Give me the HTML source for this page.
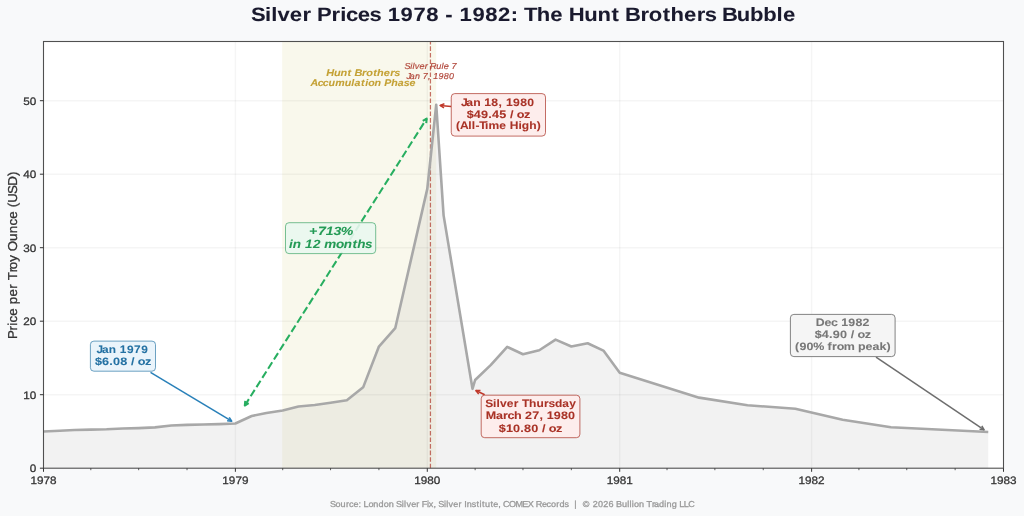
<!DOCTYPE html>
<html><head><meta charset="utf-8"><title>Silver Prices 1978 - 1982</title>
<style>
html,body{margin:0;padding:0;background:#f8f9fa;}
body{width:1024px;height:516px;overflow:hidden;}
svg{display:block;will-change:transform;font-family:"Liberation Sans",sans-serif;text-rendering:geometricPrecision;}
</style></head><body>
<svg width="1024" height="516" viewBox="0 0 1024 516">
<rect x="0" y="0" width="1024" height="516" fill="#f8f9fa"/>
<rect x="43.5" y="41.5" width="960.0" height="426.7" fill="#ffffff"/>
<rect x="282.20" y="41.5" width="154.03" height="426.7" fill="#f9f8ec"/>
<polygon points="43.50,468.2 43.50,431.45 59.80,430.71 74.52,429.98 90.82,429.61 106.59,429.25 122.89,428.51 138.66,428.14 154.96,427.41 171.25,425.57 187.03,424.83 203.32,424.47 219.10,424.10 235.39,423.51 251.69,416.01 266.41,413.07 282.71,410.50 298.48,406.46 314.78,404.99 330.55,402.78 346.85,400.21 363.15,387.35 378.92,346.56 395.22,328.18 427.29,188.90 436.23,104.74 443.59,215.36 472.50,388.82 475.13,380.00 490.90,364.93 507.20,346.93 522.97,354.27 539.27,350.23 555.57,339.57 571.34,346.56 587.64,343.25 603.41,350.60 619.71,372.65 699.10,397.64 747.46,405.21 795.31,408.81 842.62,419.84 890.99,427.26 988.25,432.04 988.25,468.2" fill="#c0c0c0" fill-opacity="0.2"/>
<line x1="43.5" y1="394.70" x2="1003.5" y2="394.70" stroke="#000" stroke-opacity="0.038" stroke-width="1.5"/>
<line x1="43.5" y1="321.20" x2="1003.5" y2="321.20" stroke="#000" stroke-opacity="0.038" stroke-width="1.5"/>
<line x1="43.5" y1="247.70" x2="1003.5" y2="247.70" stroke="#000" stroke-opacity="0.038" stroke-width="1.5"/>
<line x1="43.5" y1="174.20" x2="1003.5" y2="174.20" stroke="#000" stroke-opacity="0.038" stroke-width="1.5"/>
<line x1="43.5" y1="100.70" x2="1003.5" y2="100.70" stroke="#000" stroke-opacity="0.038" stroke-width="1.5"/>
<line x1="235.39" y1="41.5" x2="235.39" y2="468.2" stroke="#000" stroke-opacity="0.038" stroke-width="1.5"/>
<line x1="427.29" y1="41.5" x2="427.29" y2="468.2" stroke="#000" stroke-opacity="0.038" stroke-width="1.5"/>
<line x1="619.71" y1="41.5" x2="619.71" y2="468.2" stroke="#000" stroke-opacity="0.038" stroke-width="1.5"/>
<line x1="811.61" y1="41.5" x2="811.61" y2="468.2" stroke="#000" stroke-opacity="0.038" stroke-width="1.5"/>
<line x1="430.44" y1="468.2" x2="430.44" y2="41.5" stroke="#b03a2e" stroke-opacity="0.72" stroke-width="1.23" stroke-dasharray="4.55 1.97"/>
<polyline points="43.50,431.45 59.80,430.71 74.52,429.98 90.82,429.61 106.59,429.25 122.89,428.51 138.66,428.14 154.96,427.41 171.25,425.57 187.03,424.83 203.32,424.47 219.10,424.10 235.39,423.51 251.69,416.01 266.41,413.07 282.71,410.50 298.48,406.46 314.78,404.99 330.55,402.78 346.85,400.21 363.15,387.35 378.92,346.56 395.22,328.18 427.29,188.90 436.23,104.74 443.59,215.36 472.50,388.82 475.13,380.00 490.90,364.93 507.20,346.93 522.97,354.27 539.27,350.23 555.57,339.57 571.34,346.56 587.64,343.25 603.41,350.60 619.71,372.65 699.10,397.64 747.46,405.21 795.31,408.81 842.62,419.84 890.99,427.26 988.25,432.04" fill="none" stroke="#a8a8a8" stroke-width="2.6" stroke-linejoin="round" stroke-linecap="butt"/>
<rect x="43.5" y="41.5" width="960.0" height="426.7" fill="none" stroke="#505050" stroke-width="1.1"/>
<line x1="39.9" y1="468.20" x2="43.5" y2="468.20" stroke="#333" stroke-width="1"/>
<text transform="translate(29.78,472.00) scale(1.0895,1)" x="0.00" y="0" font-size="10.76" font-weight="normal" font-style="normal" fill="#333" stroke="#333" stroke-width="0.275" style="white-space:pre" >0</text>
<line x1="39.9" y1="394.70" x2="43.5" y2="394.70" stroke="#333" stroke-width="1"/>
<text transform="translate(23.26,398.50) scale(1.0895,1)" x="0.00 5.99" y="0" font-size="10.76" font-weight="normal" font-style="normal" fill="#333" stroke="#333" stroke-width="0.275" style="white-space:pre" >10</text>
<line x1="39.9" y1="321.20" x2="43.5" y2="321.20" stroke="#333" stroke-width="1"/>
<text transform="translate(23.26,325.00) scale(1.0895,1)" x="0.00 5.99" y="0" font-size="10.76" font-weight="normal" font-style="normal" fill="#333" stroke="#333" stroke-width="0.275" style="white-space:pre" >20</text>
<line x1="39.9" y1="247.70" x2="43.5" y2="247.70" stroke="#333" stroke-width="1"/>
<text transform="translate(23.26,251.50) scale(1.0895,1)" x="0.00 5.99" y="0" font-size="10.76" font-weight="normal" font-style="normal" fill="#333" stroke="#333" stroke-width="0.275" style="white-space:pre" >30</text>
<line x1="39.9" y1="174.20" x2="43.5" y2="174.20" stroke="#333" stroke-width="1"/>
<text transform="translate(23.26,178.00) scale(1.0895,1)" x="0.00 5.99" y="0" font-size="10.76" font-weight="normal" font-style="normal" fill="#333" stroke="#333" stroke-width="0.275" style="white-space:pre" >40</text>
<line x1="39.9" y1="100.70" x2="43.5" y2="100.70" stroke="#333" stroke-width="1"/>
<text transform="translate(23.26,104.50) scale(1.0895,1)" x="0.00 5.99" y="0" font-size="10.76" font-weight="normal" font-style="normal" fill="#333" stroke="#333" stroke-width="0.275" style="white-space:pre" >50</text>
<line x1="43.50" y1="468.2" x2="43.50" y2="471.8" stroke="#333" stroke-width="1"/>
<text transform="translate(30.46,483.60) scale(1.0895,1)" x="0.00 5.99 11.97 17.96" y="0" font-size="10.76" font-weight="normal" font-style="normal" fill="#333" stroke="#333" stroke-width="0.275" style="white-space:pre" >1978</text>
<line x1="90.82" y1="468.2" x2="90.82" y2="470.2" stroke="#333" stroke-width="0.8"/>
<line x1="138.66" y1="468.2" x2="138.66" y2="470.2" stroke="#333" stroke-width="0.8"/>
<line x1="187.03" y1="468.2" x2="187.03" y2="470.2" stroke="#333" stroke-width="0.8"/>
<line x1="235.39" y1="468.2" x2="235.39" y2="471.8" stroke="#333" stroke-width="1"/>
<text transform="translate(222.35,483.60) scale(1.0895,1)" x="0.00 5.99 11.97 17.96" y="0" font-size="10.76" font-weight="normal" font-style="normal" fill="#333" stroke="#333" stroke-width="0.275" style="white-space:pre" >1979</text>
<line x1="282.71" y1="468.2" x2="282.71" y2="470.2" stroke="#333" stroke-width="0.8"/>
<line x1="330.55" y1="468.2" x2="330.55" y2="470.2" stroke="#333" stroke-width="0.8"/>
<line x1="378.92" y1="468.2" x2="378.92" y2="470.2" stroke="#333" stroke-width="0.8"/>
<line x1="427.29" y1="468.2" x2="427.29" y2="471.8" stroke="#333" stroke-width="1"/>
<text transform="translate(414.25,483.60) scale(1.0895,1)" x="0.00 5.99 11.97 17.96" y="0" font-size="10.76" font-weight="normal" font-style="normal" fill="#333" stroke="#333" stroke-width="0.275" style="white-space:pre" >1980</text>
<line x1="475.13" y1="468.2" x2="475.13" y2="470.2" stroke="#333" stroke-width="0.8"/>
<line x1="522.97" y1="468.2" x2="522.97" y2="470.2" stroke="#333" stroke-width="0.8"/>
<line x1="571.34" y1="468.2" x2="571.34" y2="470.2" stroke="#333" stroke-width="0.8"/>
<line x1="619.71" y1="468.2" x2="619.71" y2="471.8" stroke="#333" stroke-width="1"/>
<text transform="translate(606.67,483.60) scale(1.0895,1)" x="0.00 5.99 11.97 17.96" y="0" font-size="10.76" font-weight="normal" font-style="normal" fill="#333" stroke="#333" stroke-width="0.275" style="white-space:pre" >1981</text>
<line x1="667.03" y1="468.2" x2="667.03" y2="470.2" stroke="#333" stroke-width="0.8"/>
<line x1="714.87" y1="468.2" x2="714.87" y2="470.2" stroke="#333" stroke-width="0.8"/>
<line x1="763.24" y1="468.2" x2="763.24" y2="470.2" stroke="#333" stroke-width="0.8"/>
<line x1="811.61" y1="468.2" x2="811.61" y2="471.8" stroke="#333" stroke-width="1"/>
<text transform="translate(798.56,483.60) scale(1.0895,1)" x="0.00 5.99 11.97 17.96" y="0" font-size="10.76" font-weight="normal" font-style="normal" fill="#333" stroke="#333" stroke-width="0.275" style="white-space:pre" >1982</text>
<line x1="858.92" y1="468.2" x2="858.92" y2="470.2" stroke="#333" stroke-width="0.8"/>
<line x1="906.76" y1="468.2" x2="906.76" y2="470.2" stroke="#333" stroke-width="0.8"/>
<line x1="955.13" y1="468.2" x2="955.13" y2="470.2" stroke="#333" stroke-width="0.8"/>
<line x1="1003.50" y1="468.2" x2="1003.50" y2="471.8" stroke="#333" stroke-width="1"/>
<text transform="translate(990.46,483.60) scale(1.0895,1)" x="0.00 5.99 11.97 17.96" y="0" font-size="10.76" font-weight="normal" font-style="normal" fill="#333" stroke="#333" stroke-width="0.275" style="white-space:pre" >1983</text>
<text transform="translate(16.50,254.85) rotate(-90) translate(-83.43,0) scale(1.0333,1)" x="-0.72 7.48 12.08 15.21 21.79 29.14 33.01 40.45 48.00 52.70 56.07 63.95 66.85 74.11 80.96 84.31 94.20 101.74 109.15 115.72 123.07 126.93 131.10 139.59 147.59 157.01" y="0" font-size="12.92" font-weight="normal" font-style="normal" fill="#333" stroke="#333" stroke-width="0.290" style="white-space:pre" >Price per Troy Ounce (USD)</text>
<text transform="translate(251.66,20.80) scale(1.1373,1)" x="-0.62 11.77 17.33 22.71 33.49 44.61 52.51 57.51 70.15 78.01 82.90 93.21 103.54 113.89 119.66 130.95 142.23 153.52 164.68 170.34 177.06 182.84 194.12 205.41 216.70 227.75 234.35 239.48 250.79 262.59 273.61 278.92 292.56 304.11 316.45 323.69 328.39 341.80 349.22 361.37 368.33 380.13 391.25 398.46 408.81 413.51 426.55 438.13 449.74 461.55 467.14" y="0" font-size="19.37" font-weight="bold" font-style="normal" fill="#1a1a2e" stroke="#1a1a2e" stroke-width="0.070" style="white-space:pre" >Silver Prices 1978 - 1982: The Hunt Brothers Bubble</text>
<text transform="translate(330.32,506.50) scale(1.0535,1)" x="-0.40 4.93 9.78 14.80 17.82 21.94 26.85 29.40 31.60 36.15 40.86 45.80 50.65 55.50 60.40 62.43 67.90 70.06 72.25 76.71 81.66 84.74 86.78 91.77 93.39 97.89 100.37 102.40 107.86 110.03 112.22 116.67 121.63 124.70 127.09 129.50 134.24 138.75 141.59 143.96 146.76 151.95 154.67 159.50 161.97 164.01 169.56 175.74 182.27 187.40 192.97 195.00 200.82 205.24 209.52 214.46 217.57 222.18 226.40 228.87 231.50 233.97 236.44 239.60 246.70 249.22 254.17 259.12 264.07 268.98 271.21 276.83 281.81 283.98 286.14 288.16 293.01 297.91 300.09 305.27 307.15 312.00 316.99 319.10 324.04 328.95 331.15 335.49 339.66" y="0" font-size="8.61" font-weight="normal" font-style="normal" fill="#999999" stroke="#999999" stroke-width="0.285" style="white-space:pre" >Source: London Silver Fix, Silver Institute, COMEX Records  |  © 2026 Bullion Trading LLC</text>
<line x1="244.80" y1="405.50" x2="426.70" y2="118.60" stroke="#27ae60" stroke-opacity="1" stroke-width="2.05" stroke-dasharray="7.6 3.29" stroke-dashoffset="0"/><polyline points="426.24,123.16 426.70,118.60 422.77,120.96" fill="none" stroke="#27ae60" stroke-opacity="1" stroke-width="2.05" stroke-linejoin="round"/><polyline points="248.73,403.14 244.80,405.50 245.26,400.94" fill="none" stroke="#27ae60" stroke-opacity="1" stroke-width="2.05" stroke-linejoin="round"/>
<line x1="150.50" y1="372.40" x2="231.70" y2="421.20" stroke="#2980b9" stroke-opacity="1" stroke-width="1.54"/><polyline points="227.13,420.85 231.70,421.20 229.24,417.33" fill="none" stroke="#2980b9" stroke-opacity="1" stroke-width="1.54" stroke-linejoin="round"/>
<rect x="90.40" y="341.10" width="65.10" height="30.10" rx="3.5" ry="3.5" fill="#eaf4fb" fill-opacity="1" stroke="#2471a3" stroke-opacity="0.65" stroke-width="1.0"/>
<text transform="translate(97.94,352.80) scale(1.1022,1)" x="-1.26 3.61 9.76 16.48 19.84 26.31 32.78 39.25" y="0" font-size="10.76" font-weight="bold" font-style="normal" fill="#2471a3" stroke="#2471a3" stroke-width="0.073" style="white-space:pre" >Jan 1979</text>
<text transform="translate(94.85,364.90) scale(1.1766,1)" x="0.04 6.10 12.28 15.47 21.53 27.58 30.68 33.79 36.51 42.63" y="0" font-size="10.76" font-weight="bold" font-style="normal" fill="#2471a3" stroke="#2471a3" stroke-width="0.068" style="white-space:pre" >$6.08 / oz</text>
<rect x="285.50" y="222.70" width="90.20" height="30.90" rx="3.5" ry="3.5" fill="#e9f7ef" fill-opacity="0.9" stroke="#239a55" stroke-opacity="0.6" stroke-width="1.0"/>
<text transform="translate(308.46,234.50) scale(1.1905,1)" x="0.51 7.94 14.53 21.12 27.18" y="0" font-size="11.84" font-weight="bold" font-style="italic" fill="#239a55" stroke="#239a55" stroke-width="0.067" style="white-space:pre" >+713%</text>
<text transform="translate(289.06,247.50) scale(1.1379,1)" x="0.05 3.31 10.53 14.06 20.95 27.77 31.04 41.25 48.18 55.72 59.97 66.77" y="0" font-size="11.84" font-weight="bold" font-style="italic" fill="#239a55" stroke="#239a55" stroke-width="0.070" style="white-space:pre" >in 12 months</text>
<text transform="translate(326.37,75.50) scale(1.1314,1)" x="-0.09 6.77 12.57 18.77 22.40 24.78 31.51 35.25 41.34 44.85 50.78 56.36 59.99" y="0" font-size="9.69" font-weight="bold" font-style="italic" fill="#c4a135" stroke="#c4a135" stroke-width="0.071" style="white-space:pre" >Hunt Brothers</text>
<text transform="translate(310.74,85.70) scale(1.1012,1)" x="-0.26 6.27 10.98 16.18 22.18 30.87 36.90 39.82 45.73 49.43 52.13 57.99 64.05 66.69 73.01 79.09 84.41 89.74" y="0" font-size="9.69" font-weight="bold" font-style="italic" fill="#c4a135" stroke="#c4a135" stroke-width="0.073" style="white-space:pre" >Accumulation Phase</text>
<text transform="translate(404.86,68.80) scale(1.0588,1)" x="-0.41 5.04 7.19 9.36 13.79 18.73 21.79 23.80 29.66 34.62 36.64 41.46 43.95" y="0" font-size="8.61" font-weight="normal" font-style="italic" fill="#a93226" fill-opacity="0.85" stroke="#a93226" stroke-width="0.189" stroke-opacity="0.85" style="white-space:pre" >Silver Rule 7</text>
<text transform="translate(407.43,78.50) scale(1.0343,1)" x="-0.98 2.37 7.31 12.28 14.87 19.85 22.37 24.95 30.00 35.04 40.08" y="0" font-size="8.61" font-weight="normal" font-style="italic" fill="#a93226" fill-opacity="0.85" stroke="#a93226" stroke-width="0.193" stroke-opacity="0.85" style="white-space:pre" >Jan 7, 1980</text>
<line x1="451.20" y1="106.60" x2="440.10" y2="105.40" stroke="#c0392b" stroke-opacity="1" stroke-width="1.54"/><polyline points="444.40,103.80 440.10,105.40 443.96,107.88" fill="none" stroke="#c0392b" stroke-opacity="1" stroke-width="1.54" stroke-linejoin="round"/>
<rect x="451.25" y="93.60" width="94.25" height="42.50" rx="3.5" ry="3.5" fill="#fdedec" fill-opacity="1" stroke="#a93226" stroke-opacity="0.7" stroke-width="1.0"/>
<text transform="translate(462.47,105.60) scale(1.1328,1)" x="-1.31 3.43 9.41 16.00 19.22 25.52 31.88 35.18 38.40 44.70 50.99 57.29" y="0" font-size="10.76" font-weight="bold" font-style="normal" fill="#a93226" stroke="#a93226" stroke-width="0.071" style="white-space:pre" >Jan 18, 1980</text>
<text transform="translate(466.68,117.50) scale(1.1782,1)" x="0.03 6.09 12.14 18.32 21.50 27.55 33.59 36.69 39.79 42.51 48.62" y="0" font-size="10.76" font-weight="bold" font-style="normal" fill="#a93226" stroke="#a93226" stroke-width="0.068" style="white-space:pre" >$49.45 / oz</text>
<text transform="translate(455.65,129.40) scale(1.1202,1)" x="0.30 3.84 11.34 14.47 17.64 21.17 26.30 29.35 39.01 45.20 48.23 56.02 59.07 65.61 72.45" y="0" font-size="10.76" font-weight="bold" font-style="normal" fill="#a93226" stroke="#a93226" stroke-width="0.071" style="white-space:pre" >(All-Time High)</text>
<line x1="484.70" y1="394.80" x2="475.90" y2="390.50" stroke="#c0392b" stroke-opacity="1" stroke-width="1.54"/><polyline points="480.48,390.46 475.90,390.50 478.68,394.14" fill="none" stroke="#c0392b" stroke-opacity="1" stroke-width="1.54" stroke-linejoin="round"/>
<rect x="481.20" y="395.20" width="98.70" height="42.50" rx="3.5" ry="3.5" fill="#fdedec" fill-opacity="1" stroke="#a93226" stroke-opacity="0.7" stroke-width="1.0"/>
<text transform="translate(485.49,407.30) scale(1.1149,1)" x="-0.28 6.70 9.85 12.93 19.04 25.33 29.79 32.74 39.14 45.69 52.42 56.53 62.26 68.95 75.04" y="0" font-size="10.76" font-weight="bold" font-style="normal" fill="#a93226" stroke="#a93226" stroke-width="0.072" style="white-space:pre" >Silver Thursday</text>
<text transform="translate(485.82,419.45) scale(1.1669,1)" x="-0.11 8.71 14.74 18.61 24.05 30.49 33.58 39.69 45.92 49.11 52.20 58.31 64.42 70.53" y="0" font-size="10.76" font-weight="bold" font-style="normal" fill="#a93226" stroke="#a93226" stroke-width="0.069" style="white-space:pre" >March 27, 1980</text>
<text transform="translate(498.78,431.60) scale(1.1782,1)" x="0.03 6.09 12.14 18.32 21.50 27.55 33.59 36.69 39.79 42.51 48.62" y="0" font-size="10.76" font-weight="bold" font-style="normal" fill="#a93226" stroke="#a93226" stroke-width="0.068" style="white-space:pre" >$10.80 / oz</text>
<line x1="876.00" y1="357.20" x2="984.10" y2="429.80" stroke="#6e6e6e" stroke-opacity="1" stroke-width="1.54"/><polyline points="979.55,429.22 984.10,429.80 981.84,425.81" fill="none" stroke="#6e6e6e" stroke-opacity="1" stroke-width="1.54" stroke-linejoin="round"/>
<rect x="790.40" y="314.40" width="104.70" height="42.20" rx="3.5" ry="3.5" fill="#f5f5f5" fill-opacity="1" stroke="#777777" stroke-opacity="0.9" stroke-width="1.0"/>
<text transform="translate(815.98,326.20) scale(1.1490,1)" x="-0.18 7.44 13.11 18.80 21.96 28.17 34.37 40.58" y="0" font-size="10.76" font-weight="bold" font-style="normal" fill="#777777" stroke="#777777" stroke-width="0.070" style="white-space:pre" >Dec 1982</text>
<text transform="translate(814.65,338.10) scale(1.1766,1)" x="0.04 6.10 12.28 15.47 21.53 27.58 30.68 33.79 36.51 42.63" y="0" font-size="10.76" font-weight="bold" font-style="normal" fill="#777777" stroke="#777777" stroke-width="0.068" style="white-space:pre" >$4.90 / oz</text>
<text transform="translate(794.65,350.00) scale(1.1583,1)" x="0.23 4.13 10.29 16.01 25.27 28.44 32.24 36.27 42.42 51.86 54.78 61.24 67.23 73.16 79.32" y="0" font-size="10.76" font-weight="bold" font-style="normal" fill="#777777" stroke="#777777" stroke-width="0.069" style="white-space:pre" >(90% from peak)</text>
</svg>
</body></html>
